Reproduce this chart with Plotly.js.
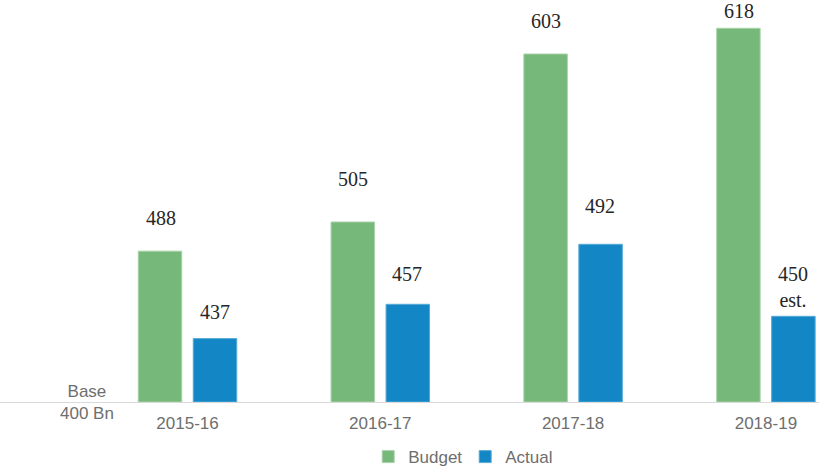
<!DOCTYPE html>
<html>
<head>
<meta charset="utf-8">
<script src="https://cdn.plot.ly/plotly-3.0.1.min.js"></script>
<style>html,body{margin:0;padding:0;background:#fff;}#chart{width:819px;height:469px;}</style>
</head>
<body>
<div id="chart"></div>
<script>
const BASE = 400;
const years = ['2015-16', '2016-17', '2017-18', '2018-19'];
const budget = [488, 505, 603, 618];
const actual = [437, 457, 492, 450];
const budgetLabels = ['488', '505', '603', '618'];
const actualLabels = ['437', '457', '492', '450<br>est.'];
const budgetLift = [20, 30, 20, 4];
const actualLift = [14, 17, 25, 3];

const GREEN = '#76b879';
const BLUE = '#1387c6';

const traces = [
  {
    type: 'bar', name: 'Budget', x: years,
    y: budget.map(v => v - BASE), base: BASE,
    marker: {color: GREEN, line: {color: '#a9d3ab', width: 1}},
    hoverinfo: 'skip'
  },
  {
    type: 'bar', name: 'Actual', x: years,
    y: actual.map(v => v - BASE), base: BASE,
    marker: {color: BLUE, line: {color: '#5aaad6', width: 1}},
    hoverinfo: 'skip'
  }
];

const valueFont = {family: 'Liberation Serif, Times New Roman, serif', size: 20, color: '#262626'};
const annotations = [];
years.forEach((yr, i) => {
  annotations.push({x: yr, y: budget[i], xref: 'x', yref: 'y', text: budgetLabels[i],
    showarrow: false, yanchor: 'bottom', xanchor: 'center', xshift: -27, yshift: budgetLift[i], font: valueFont});
  annotations.push({x: yr, y: actual[i], xref: 'x', yref: 'y', text: actualLabels[i],
    showarrow: false, yanchor: 'bottom', xanchor: 'center', xshift: 27, yshift: actualLift[i], font: valueFont});
});
annotations.push({x: -0.52, y: BASE, xref: 'x', yref: 'y', text: 'Base<br>400 Bn', showarrow: false,
  xanchor: 'center', yanchor: 'middle', font: {family: 'Liberation Sans, Arial, sans-serif', size: 17, color: '#6e6e6e'}});

const layout = {
  width: 819, height: 469,
  margin: {l: 0, r: 0, t: 0, b: 67, autoexpand: false},
  paper_bgcolor: '#fff', plot_bgcolor: '#fff',
  barmode: 'group', bargap: 0.4295, bargroupgap: 0.209,
  showlegend: true,
  legend: {orientation: 'h', x: 0.568, xanchor: 'center', y: -0.137, yanchor: 'middle',
    entrywidth: 52, entrywidthmode: 'pixels',
    font: {family: 'Liberation Sans, Arial, sans-serif', size: 17, color: '#6e6e6e'}, traceorder: 'normal'},
  xaxis: {type: 'category', range: [-0.9725, 3.2754], showgrid: false, zeroline: false,
    showline: true, linecolor: '#d9d9d9', linewidth: 1, ticks: '', ticklabelstandoff: 6, automargin: false,
    tickfont: {family: 'Liberation Sans, Arial, sans-serif', size: 17, color: '#6e6e6e'}},
  yaxis: {range: [BASE, 634.5], visible: false, showgrid: false, zeroline: false, automargin: false},
  annotations: annotations
};

Plotly.newPlot('chart', traces, layout, {displayModeBar: false, staticPlot: true});
</script>
</body>
</html>
